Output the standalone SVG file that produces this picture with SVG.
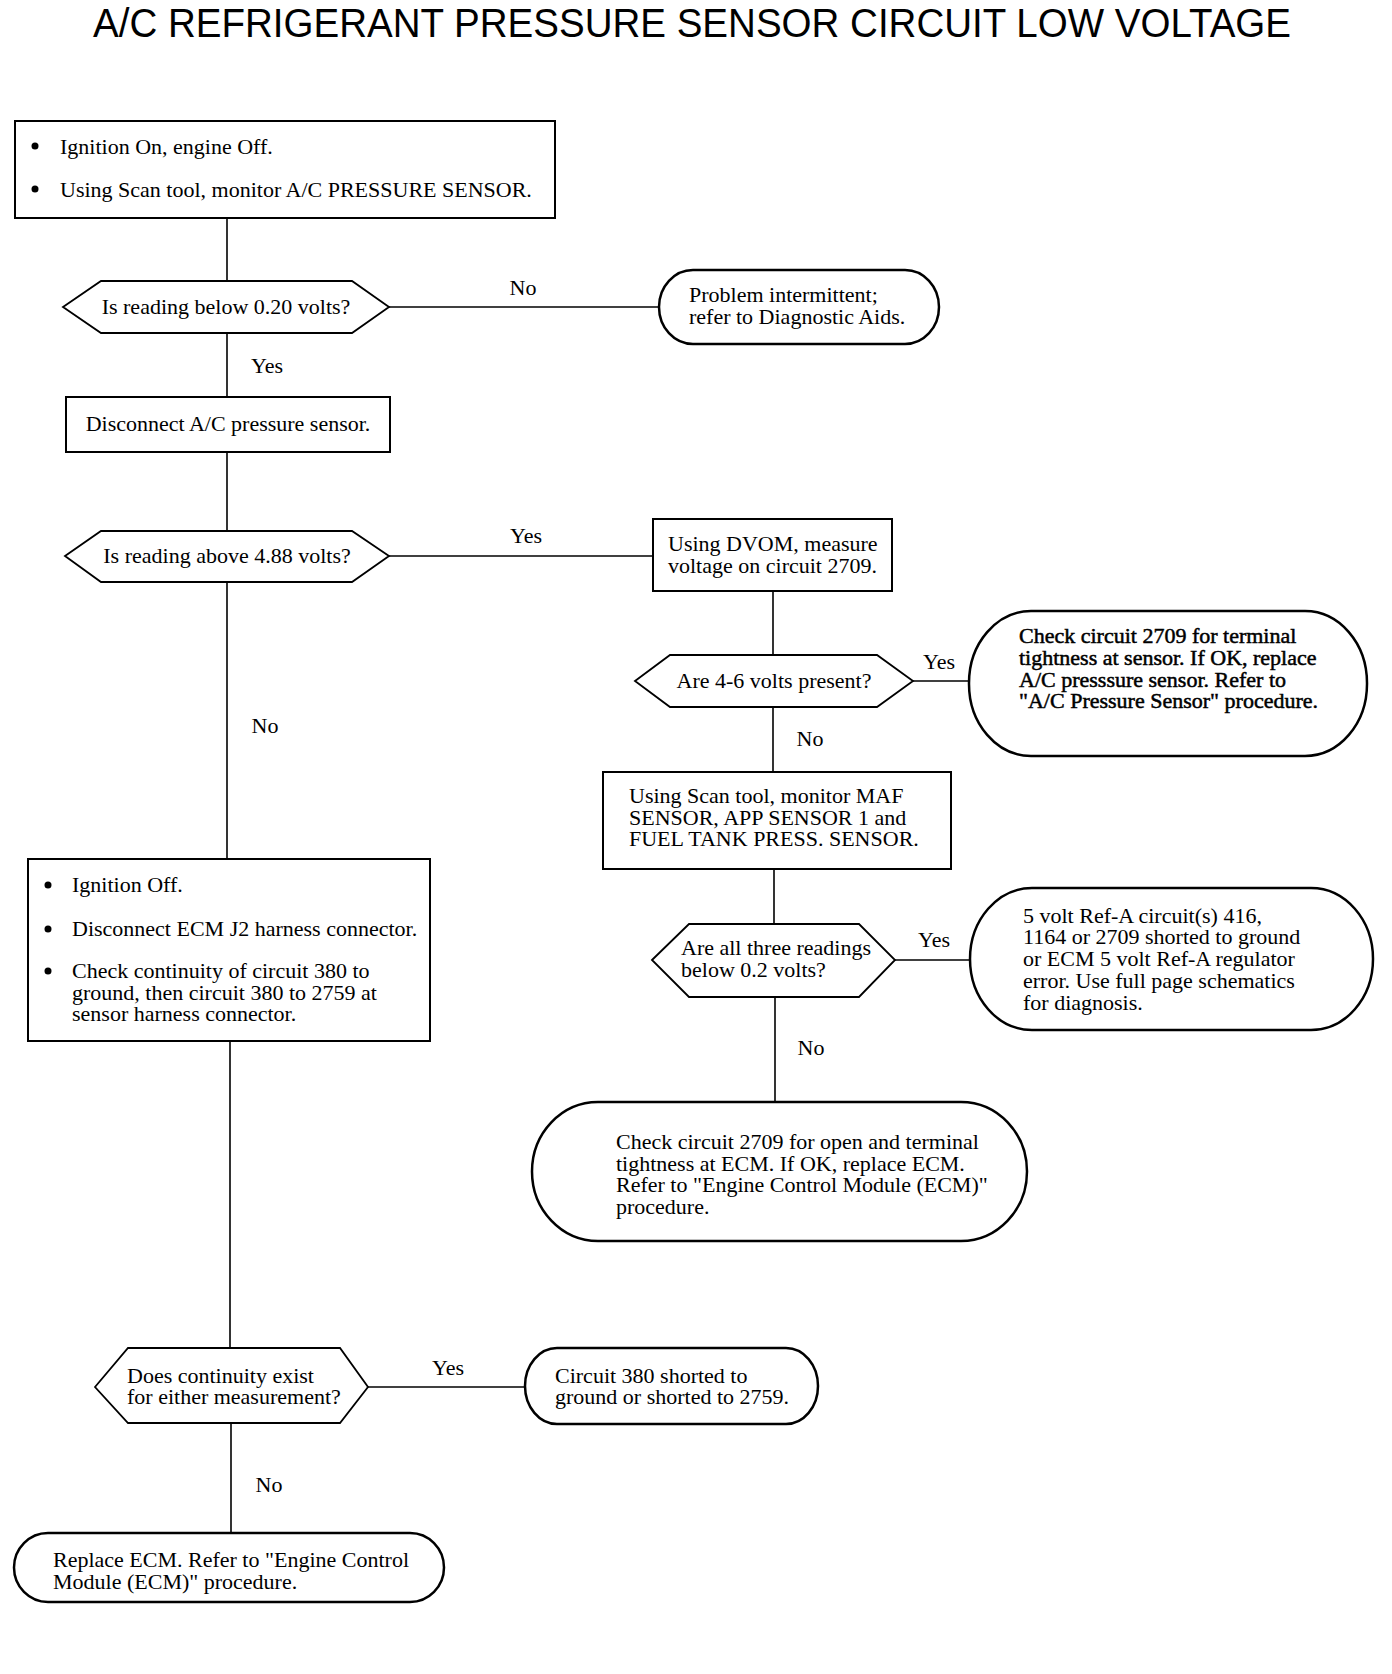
<svg xmlns="http://www.w3.org/2000/svg" width="1392" height="1674" viewBox="0 0 1392 1674">
<style>
.bg{fill:#fff}
.box{fill:#fff;stroke:#000;stroke-width:2}
.term{fill:#fff;stroke:#000;stroke-width:2.5}
.dec{fill:#fff;stroke:#000;stroke-width:1.8}
.ln{stroke:#000;stroke-width:1.6;fill:none}
.t{font-family:"Liberation Serif","Times New Roman",serif;font-size:22px;fill:#000}
.c{text-anchor:middle}
.b{stroke:#000;stroke-width:0.5}
.title{font-family:"Liberation Sans",Arial,sans-serif;font-size:40px;fill:#000}
.dot{fill:#000}
</style>
<rect class="bg" x="0" y="0" width="1392" height="1674"/>
<text class="title" x="93" y="37" textLength="1198" lengthAdjust="spacingAndGlyphs">A/C REFRIGERANT PRESSURE SENSOR CIRCUIT LOW VOLTAGE</text>

<g id="connectors">
<line class="ln" x1="227" y1="218" x2="227" y2="281"/>
<line class="ln" x1="389" y1="307" x2="659" y2="307"/>
<line class="ln" x1="227" y1="333" x2="227" y2="397"/>
<line class="ln" x1="227" y1="452" x2="227" y2="531"/>
<line class="ln" x1="389" y1="556" x2="653" y2="556"/>
<line class="ln" x1="773" y1="591" x2="773" y2="655"/>
<line class="ln" x1="913" y1="681" x2="969" y2="681"/>
<line class="ln" x1="773" y1="707" x2="773" y2="772"/>
<line class="ln" x1="774" y1="869" x2="774" y2="924"/>
<line class="ln" x1="895" y1="960" x2="970" y2="960"/>
<line class="ln" x1="775" y1="997" x2="775" y2="1102"/>
<line class="ln" x1="227" y1="582" x2="227" y2="859"/>
<line class="ln" x1="230" y1="1041" x2="230" y2="1348"/>
<line class="ln" x1="368" y1="1387" x2="525" y2="1387"/>
<line class="ln" x1="231" y1="1423" x2="231" y2="1533"/>
<text class="t c" x="523" y="295">No</text>
<text class="t c" x="267" y="373">Yes</text>
<text class="t c" x="526" y="543">Yes</text>
<text class="t c" x="939" y="669">Yes</text>
<text class="t c" x="810" y="746">No</text>
<text class="t c" x="934" y="947">Yes</text>
<text class="t c" x="811" y="1055">No</text>
<text class="t c" x="265" y="733">No</text>
<text class="t c" x="448" y="1375">Yes</text>
<text class="t c" x="269" y="1492">No</text>
</g>

<g id="start">
<rect class="box" x="15" y="121" width="540" height="97"/>
<circle class="dot" cx="35" cy="146" r="3.5"/>
<circle class="dot" cx="35" cy="189" r="3.5"/>
<text class="t" x="60" y="154">Ignition On, engine Off.</text>
<text class="t" x="60" y="197">Using Scan tool, monitor A/C PRESSURE SENSOR.</text>
</g>

<g id="d1">
<polygon class="dec" points="63,307 101,281 352,281 389,307 352,333 101,333"/>
<text class="t c" x="226" y="314">Is reading below 0.20 volts?</text>
</g>

<g id="t1">
<rect class="term" x="659" y="270" width="280" height="74" rx="34" ry="37"/>
<text class="t" x="689" y="302">Problem intermittent;</text>
<text class="t" x="689" y="324">refer to Diagnostic Aids.</text>
</g>

<g id="b2">
<rect class="box" x="66" y="397" width="324" height="55"/>
<text class="t c" x="228" y="431">Disconnect A/C pressure sensor.</text>
</g>

<g id="d2">
<polygon class="dec" points="65,556 101,531 352,531 389,556 352,582 101,582"/>
<text class="t c" x="227" y="563">Is reading above 4.88 volts?</text>
</g>

<g id="b3">
<rect class="box" x="653" y="519" width="239" height="72"/>
<text class="t" x="668" y="551">Using DVOM, measure</text>
<text class="t" x="668" y="573">voltage on circuit 2709.</text>
</g>

<g id="d3">
<polygon class="dec" points="635,681 670,655 877,655 913,681 877,707 670,707"/>
<text class="t c" x="774" y="688">Are 4-6 volts present?</text>
</g>

<g id="t2">
<rect class="term" x="969" y="611" width="398" height="145" rx="62" ry="72"/>
<text class="t b" x="1019" y="643">Check circuit 2709 for terminal</text>
<text class="t b" x="1019" y="665">tightness at sensor. If OK, replace</text>
<text class="t b" x="1019" y="687">A/C presssure sensor. Refer to</text>
<text class="t b" x="1019" y="708">"A/C Pressure Sensor" procedure.</text>
</g>

<g id="b4">
<rect class="box" x="603" y="772" width="348" height="97"/>
<text class="t" x="629" y="803">Using Scan tool, monitor MAF</text>
<text class="t" x="629" y="825">SENSOR, APP SENSOR 1 and</text>
<text class="t" x="629" y="846">FUEL TANK PRESS. SENSOR.</text>
</g>

<g id="d4">
<polygon class="dec" points="652,960 689,924 859,924 895,960 859,997 689,997"/>
<text class="t" x="681" y="955">Are all three readings</text>
<text class="t" x="681" y="977">below 0.2 volts?</text>
</g>

<g id="t3">
<rect class="term" x="970" y="888" width="403" height="142" rx="62" ry="71"/>
<text class="t" x="1023" y="923">5 volt Ref-A circuit(s) 416,</text>
<text class="t" x="1023" y="944">1164 or 2709 shorted to ground</text>
<text class="t" x="1023" y="966">or ECM 5 volt Ref-A regulator</text>
<text class="t" x="1023" y="988">error. Use full page schematics</text>
<text class="t" x="1023" y="1010">for diagnosis.</text>
</g>

<g id="t4">
<rect class="term" x="532" y="1102" width="495" height="139" rx="66" ry="69.5"/>
<text class="t" x="616" y="1149">Check circuit 2709 for open and terminal</text>
<text class="t" x="616" y="1171">tightness at ECM. If OK, replace ECM.</text>
<text class="t" x="616" y="1192">Refer to "Engine Control Module (ECM)"</text>
<text class="t" x="616" y="1214">procedure.</text>
</g>

<g id="b5">
<rect class="box" x="28" y="859" width="402" height="182"/>
<circle class="dot" cx="48" cy="885" r="3.5"/>
<circle class="dot" cx="48" cy="929" r="3.5"/>
<circle class="dot" cx="48" cy="971" r="3.5"/>
<text class="t" x="72" y="892">Ignition Off.</text>
<text class="t" x="72" y="936">Disconnect ECM J2  harness connector.</text>
<text class="t" x="72" y="978">Check continuity of circuit 380 to</text>
<text class="t" x="72" y="1000">ground, then circuit 380 to 2759 at</text>
<text class="t" x="72" y="1021">sensor harness connector.</text>
</g>

<g id="d5">
<polygon class="dec" points="95,1387 128,1348 340,1348 368,1387 340,1423 128,1423"/>
<text class="t" x="127" y="1383">Does continuity exist</text>
<text class="t" x="127" y="1404">for either measurement?</text>
</g>

<g id="t5">
<rect class="term" x="525" y="1348" width="293" height="76" rx="32" ry="38"/>
<text class="t" x="555" y="1383">Circuit 380 shorted to</text>
<text class="t" x="555" y="1404">ground or shorted to 2759.</text>
</g>

<g id="t6">
<rect class="term" x="14" y="1533" width="430" height="69" rx="34" ry="34.5"/>
<text class="t" x="53" y="1567">Replace ECM. Refer to "Engine Control</text>
<text class="t" x="53" y="1589">Module (ECM)" procedure.</text>
</g>
</svg>
